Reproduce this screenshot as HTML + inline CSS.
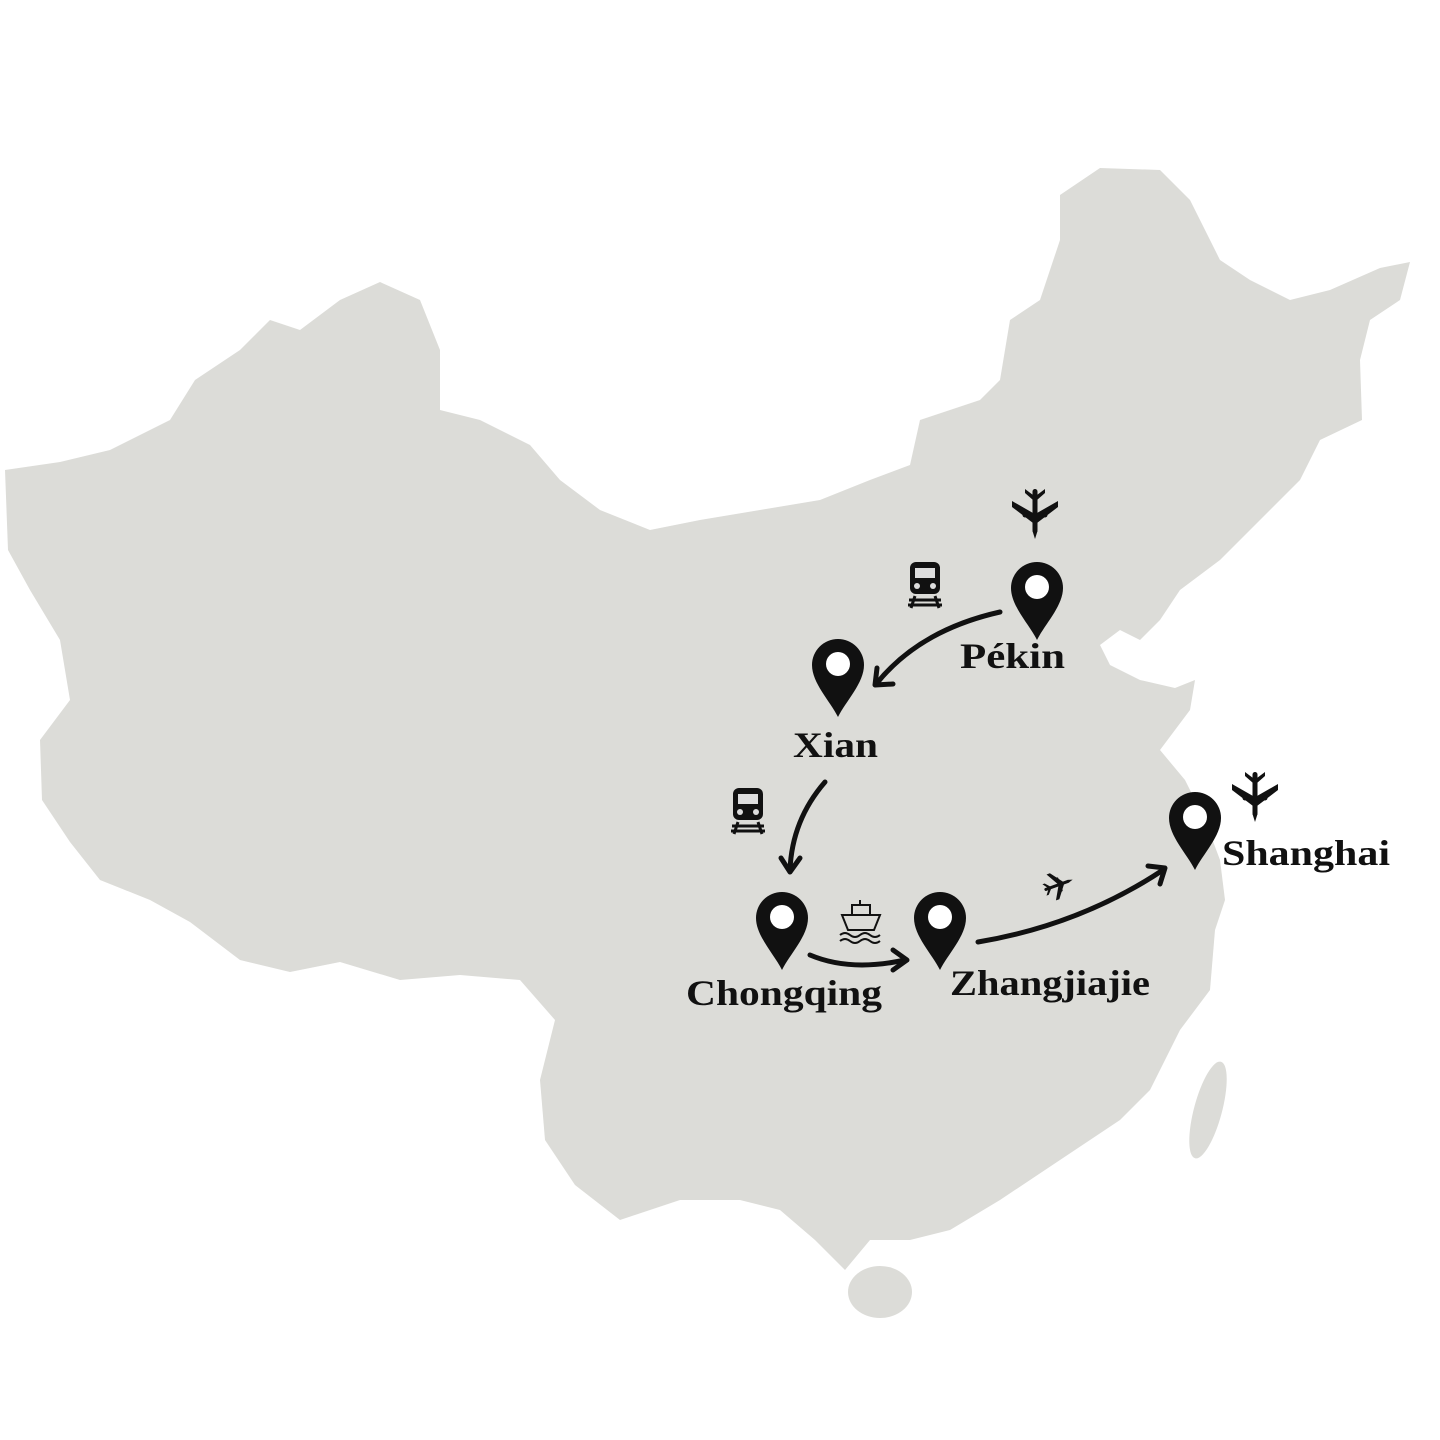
<!DOCTYPE html>
<html><head><meta charset="utf-8"><style>
html,body{margin:0;padding:0;background:#fff;}
svg{display:block}
text{font-family:"Liberation Serif",serif;font-weight:bold;fill:#111;}
</style></head><body>
<svg width="1440" height="1440" viewBox="0 0 1440 1440" xmlns="http://www.w3.org/2000/svg">
<defs>
<g id="pin"><path d="M0,52 C-8,36 -26,18 -26,0 A26,26 0 1 1 26,0 C26,18 8,36 0,52 Z" fill="#111"/><circle cx="0" cy="-1" r="12" fill="#fff"/></g>
<g id="plane" fill="#111"><rect x="-2.5" y="-24" width="5" height="44" rx="2.5"/><path d="M-2.5,18 L0,26 L2.5,18 Z"/><path d="M-2,0 L-23,-12 L-23,-6 L-2,10 Z M2,0 L23,-12 L23,-6 L2,10 Z"/><path d="M-2,-18 L-10,-24 L-10,-20 L-2,-13 Z M2,-18 L10,-24 L10,-20 L2,-13 Z"/><circle cx="-10" cy="2" r="2.5"/><circle cx="10" cy="2" r="2.5"/></g>
<g id="train"><rect x="-15" y="-20" width="30" height="32" rx="6" fill="#111"/><rect x="-10" y="-14" width="20" height="10" fill="#ddd"/><circle cx="-8" cy="4" r="3" fill="#ddd"/><circle cx="8" cy="4" r="3" fill="#ddd"/><path d="M-10,14 L-14,26 M10,14 L14,26 M-16,18 L16,18 M-17,23 L17,23" stroke="#111" stroke-width="3"/></g>
</defs>
<path fill="#dcdcd8" d="M5,470 L60,462 L110,450 L170,420 L195,380 L240,350 L270,320 L300,330 L340,300 L380,282 L420,300 L440,350 L440,410 L480,420 L530,445 L560,480 L600,510 L650,530 L700,520 L760,510 L820,500 L870,480 L910,465 L920,420 L980,400 L1000,380 L1010,320 L1040,300 L1060,240 L1060,195 L1100,168 L1160,170 L1190,200 L1220,260 L1250,280 L1290,300 L1330,290 L1380,268 L1410,262 L1400,300 L1370,320 L1360,360 L1362,420 L1320,440 L1300,480 L1260,520 L1220,560 L1180,590 L1160,620 L1140,640 L1120,630 L1100,645 L1110,665 L1140,680 L1175,688 L1195,680 L1190,710 L1160,750 L1185,780 L1205,820 L1220,860 L1225,900 L1215,930 L1210,990 L1180,1030 L1150,1090 L1120,1120 L1060,1160 L1000,1200 L950,1230 L910,1240 L870,1240 L845,1270 L815,1240 L780,1210 L740,1200 L680,1200 L620,1220 L575,1185 L545,1140 L540,1080 L555,1020 L520,980 L460,975 L400,980 L340,962 L290,972 L240,960 L190,922 L150,900 L100,880 L70,842 L42,800 L40,740 L70,700 L60,640 L30,590 L8,550 Z"/>
<ellipse cx="880" cy="1292" rx="32" ry="26" fill="#dcdcd8"/>
<ellipse cx="1208" cy="1110" rx="14" ry="50" transform="rotate(15 1208 1110)" fill="#dcdcd8"/>
<g fill="none" stroke="#111" stroke-width="5" stroke-linecap="round">
<path d="M1000,612 Q920,630 877,683"/>
<path d="M825,782 Q792,820 790,870"/>
<path d="M810,955 Q850,972 905,960"/>
<path d="M978,942 Q1080,925 1163,870"/>
</g>
<g fill="none" stroke="#111" stroke-width="5" stroke-linecap="round" stroke-linejoin="round">
<path d="M877,668 L875,685 L893,684"/>
<path d="M781,858 L790,872 L800,858"/>
<path d="M893,950 L907,960 L893,970"/>
<path d="M1148,866 L1165,868 L1160,884"/>
</g>
<use href="#pin" x="1037" y="588"/>
<use href="#pin" x="838" y="665"/>
<use href="#pin" x="782" y="918"/>
<use href="#pin" x="940" y="918"/>
<use href="#pin" x="1195" y="818"/>
<use href="#plane" x="1035" y="513"/>
<use href="#plane" x="1255" y="796"/>
<g transform="translate(1058,885) rotate(-110) scale(0.6)"><use href="#plane"/></g>
<use href="#train" x="925" y="582"/>
<use href="#train" x="748" y="808"/>
<g stroke="#111" stroke-width="2" fill="none"><path d="M842,915 L880,915 L874,930 L848,930 Z"/><rect x="852" y="905" width="18" height="10"/><path d="M860,900 L860,905"/><path d="M840,935 q5,-4 10,0 t10,0 t10,0 t10,0 M840,941 q5,-4 10,0 t10,0 t10,0 t10,0"/></g>
<text x="960" y="668" font-size="36" textLength="105" lengthAdjust="spacingAndGlyphs">Pékin</text>
<text x="793" y="757" font-size="36" textLength="85" lengthAdjust="spacingAndGlyphs">Xian</text>
<text x="686" y="1005" font-size="36" textLength="196" lengthAdjust="spacingAndGlyphs">Chongqing</text>
<text x="950" y="995" font-size="36" textLength="200" lengthAdjust="spacingAndGlyphs">Zhangjiajie</text>
<text x="1222" y="865" font-size="36" textLength="168" lengthAdjust="spacingAndGlyphs">Shanghai</text>
</svg>
</body></html>
